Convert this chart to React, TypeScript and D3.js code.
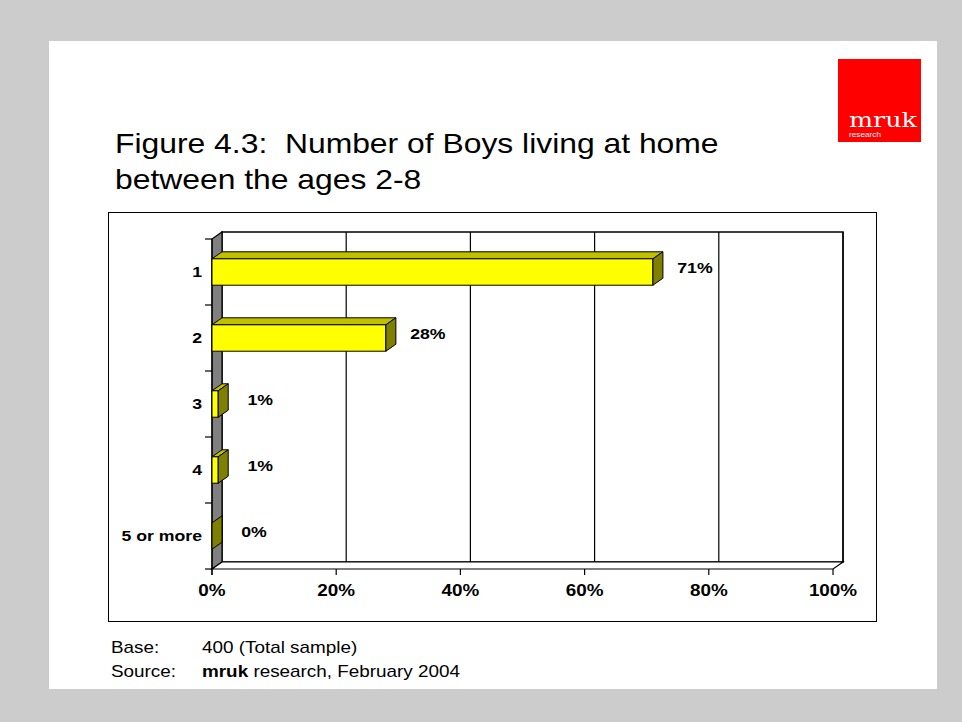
import React from "react";
import * as d3 from "d3";

const categories = ["1", "2", "3", "4", "5 or more"];
const values = [71, 28, 1, 1, 0];
const xTicks = [0, 20, 40, 60, 80, 100];
const titleLines = ["Figure 4.3:  Number of Boys living at home", "between the ages 2-8"];

const W = 962;
const H = 722;
const DX = 10;
const DY = 7;
const SX = 1.18;
const FONT = "'Liberation Sans', Arial, sans-serif";

type TProps = {
  x: number;
  y: number;
  size: number;
  bold?: boolean;
  anchor?: "start" | "middle" | "end";
  fill?: string;
  family?: string;
  sx?: number;
  children: React.ReactNode;
};

function T({ x, y, size, bold, anchor = "start", fill = "#000", family = FONT, sx = SX, children }: TProps) {
  return (
    <text
      transform={`translate(${x},${y}) scale(${sx},1)`}
      textAnchor={anchor}
      fontFamily={family}
      fontSize={size}
      fontWeight={bold ? "bold" : "normal"}
      fill={fill}
      style={{ whiteSpace: "pre" }}
    >
      {children}
    </text>
  );
}

export default function App() {
  const x = d3.scaleLinear().domain([0, 100]).range([212, 833]);
  const y = d3.scaleBand<string>().domain(categories).range([239, 569]).padding(0);
  const barH = y.bandwidth() * 0.4;
  const top = y.range()[0];
  const bottom = y.range()[1];
  const x0 = x(0);
  const x1 = x(100);

  const bandEdges = categories.map((c) => y(c) as number).concat([bottom]);

  return (
    <svg width={W} height={H} style={{ position: "absolute", left: 0, top: 0 }}>
      <rect x={0} y={0} width={W} height={H} fill="#cccccc" />
      <rect x={49} y={41} width={888} height={648} fill="#ffffff" />

      {/* logo */}
      <rect x={838} y={59} width={83} height={83} fill="#ff0000" />
      <text
        x={849}
        y={127}
        fill="#fff"
        fontFamily="'DejaVu Serif', serif"
        fontSize={20}
        textLength={68}
        lengthAdjust="spacingAndGlyphs"
      >
        mruk
      </text>
      <text x={849} y={137} fill="#fff" fontFamily={FONT} fontSize={7} textLength={32} lengthAdjust="spacingAndGlyphs">
        research
      </text>

      {/* title */}
      {titleLines.map((t, i) => (
        <T key={i} x={115} y={153 + i * 36} size={27}>
          {t}
        </T>
      ))}

      {/* chart box */}
      <rect x={108.5} y={212.5} width={768} height={409} fill="none" stroke="#000" strokeWidth={1} />

      {/* back wall */}
      <rect x={x0 + DX} y={top - DY} width={x1 - x0} height={bottom - top} fill="#fff" stroke="#000" strokeWidth={1.5} />
      {xTicks.slice(1).map((t) => (
        <line key={t} x1={x(t) + DX} x2={x(t) + DX} y1={top - DY} y2={bottom - DY} stroke="#000" strokeWidth={1.2} />
      ))}
      {/* left side wall */}
      <polygon
        points={`${x0},${top} ${x0 + DX},${top - DY} ${x0 + DX},${bottom - DY} ${x0},${bottom}`}
        fill="#808080"
        stroke="#000"
        strokeWidth={1.2}
      />
      {/* floor */}
      <polygon
        points={`${x0},${bottom} ${x0 + DX},${bottom - DY} ${x1 + DX},${bottom - DY} ${x1},${bottom}`}
        fill="#fff"
        stroke="#000"
        strokeWidth={1.2}
      />

      {/* y axis ticks */}
      {bandEdges.map((e, i) => (
        <line key={i} x1={x0 - 7} x2={x0} y1={e} y2={e} stroke="#000" strokeWidth={1.2} />
      ))}
      <line x1={x0} x2={x0} y1={top} y2={bottom + 6} stroke="#000" strokeWidth={1.2} />
      {xTicks.map((t) => (
        <line key={t} x1={x(t)} x2={x(t)} y1={bottom} y2={bottom + 6} stroke="#000" strokeWidth={1.2} />
      ))}

      {/* bars */}
      {categories.map((c, i) => {
        const v = values[i];
        const cy = (y(c) as number) + y.bandwidth() / 2;
        const yt = cy - barH / 2;
        const yb = cy + barH / 2;
        const xe = x(v);
        return (
          <g key={c}>
            {v > 0 && (
              <>
                <polygon
                  points={`${x0},${yt} ${x0 + DX},${yt - DY} ${xe + DX},${yt - DY} ${xe},${yt}`}
                  fill="#c0c000"
                  stroke="#000"
                  strokeWidth={1}
                />
                <rect x={x0} y={yt} width={xe - x0} height={barH} fill="#ffff00" stroke="#000" strokeWidth={1} />
              </>
            )}
            <polygon
              points={`${xe},${yt} ${xe + DX},${yt - DY} ${xe + DX},${yb - DY} ${xe},${yb}`}
              fill="#808000"
              stroke="#000"
              strokeWidth={1}
            />
            <T x={xe + DX + 32} y={cy + 1} size={15} bold anchor="middle">
              {v}%
            </T>
            <T x={202} y={cy + 5} size={15} bold anchor="end">
              {c}
            </T>
          </g>
        );
      })}

      {/* x labels */}
      {xTicks.map((t) => (
        <T key={t} x={x(t)} y={596} size={16} bold anchor="middle">
          {t}%
        </T>
      ))}

      {/* footer */}
      <T x={111} y={653} size={16}>Base:</T>
      <T x={202} y={653} size={16}>400 (Total sample)</T>
      <T x={111} y={677} size={16}>Source:</T>
      <T x={202} y={677} size={16}>
        <tspan fontWeight="bold">mruk</tspan> research, February 2004
      </T>
    </svg>
  );
}
